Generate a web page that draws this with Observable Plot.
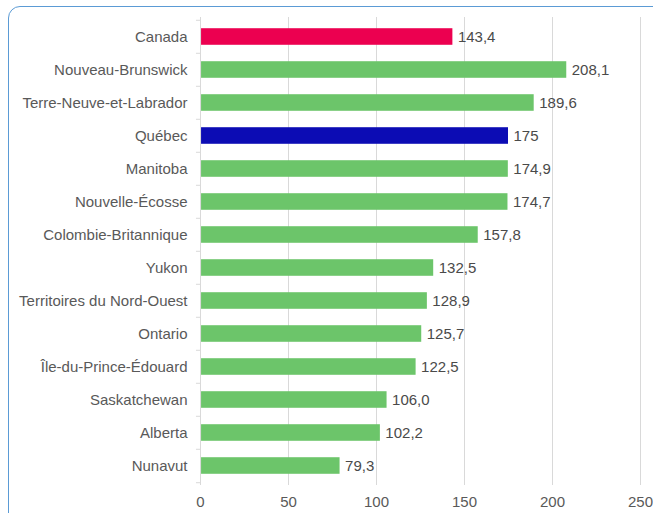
<!DOCTYPE html>
<html>
<head>
<meta charset="utf-8">
<script src="https://cdn.jsdelivr.net/npm/d3@7"></script>
<script src="https://cdn.jsdelivr.net/npm/@observablehq/plot@0.6"></script>
<style>
  html, body { margin: 0; padding: 0; background: #fff; overflow: hidden; }
  #wrap { position: relative; width: 653px; height: 513px; }
  #border { position: absolute; left: 8px; top: 6px; width: 700px; height: 520px;
            border: 1.5px solid #5b9bd5; border-radius: 12px; box-sizing: border-box; }
  #chart { position: absolute; left: 0; top: 0; }
  #chart svg text { font-family: "Liberation Sans", Arial, sans-serif; }
</style>
</head>
<body>
<div id="wrap"><div id="border"></div><div id="chart"></div></div>
<script>
const provinces = ["Canada", "Nouveau-Brunswick", "Terre-Neuve-et-Labrador", "Québec", "Manitoba",
  "Nouvelle-Écosse", "Colombie-Britannique", "Yukon", "Territoires du Nord-Ouest", "Ontario",
  "Île-du-Prince-Édouard", "Saskatchewan", "Alberta", "Nunavut"];
const values = [143.4, 208.1, 189.6, 175, 174.9, 174.7, 157.8, 132.5, 128.9, 125.7, 122.5, 106.0, 102.2, 79.3];
const valueLabels = ["143,4", "208,1", "189,6", "175", "174,9", "174,7", "157,8", "132,5", "128,9", "125,7", "122,5", "106,0", "102,2", "79,3"];
const xTicks = [0, 50, 100, 150, 200, 250];

const colorOf = name => name === "Canada" ? "#ec0050" : name === "Québec" ? "#0c0cb4" : "#6cc56a";
const data = provinces.map((p, i) => ({name: p, value: values[i], label: valueLabels[i], color: colorOf(p)}));

const W = 653, H = 513, mt = 17, mb = 28;
const band = (H - mt - mb) / provinces.length;
const half = band / 2;
const inset = (band - 17) / 2;

const chart = Plot.plot({
  width: W,
  height: H,
  marginLeft: 200,
  marginRight: 13,
  marginTop: mt,
  marginBottom: mb,
  style: {fontFamily: "'Liberation Sans', Arial, sans-serif", fontSize: "15px", color: "#595959", background: "transparent"},
  x: {domain: [0, 250], ticks: xTicks, label: null},
  y: {domain: provinces, padding: 0, label: null},
  marks: [
    Plot.ruleX(xTicks.slice(1), {stroke: "#d9d9d9", strokeWidth: 1}),
    Plot.ruleY(provinces, {y: d => d, x1: -2.3, x2: 0, dy: -half, stroke: "#d9d9d9"}),
    Plot.ruleY([provinces[provinces.length - 1]], {y: d => d, x1: -2.3, x2: 0, dy: half, stroke: "#d9d9d9"}),
    Plot.barX(data, {y: "name", x1: 0.6, x2: "value", fill: "color", insetTop: inset, insetBottom: inset}),
    Plot.ruleX([0], {stroke: "#d9d9d9", strokeWidth: 1}),
    Plot.text(data, {y: "name", x: "value", text: "label", textAnchor: "start", dx: 5, fill: "#4a4a4a", fontSize: 15}),
    Plot.axisY({tickSize: 0, tickPadding: 13, fill: "#595959", fontSize: 15}),
    Plot.axisX({ticks: xTicks, tickSize: 0, tickPadding: 11, fill: "#595959", fontSize: 15, tickFormat: d => String(d)})
  ]
});
document.getElementById("chart").appendChild(chart);
</script>
</body>
</html>
